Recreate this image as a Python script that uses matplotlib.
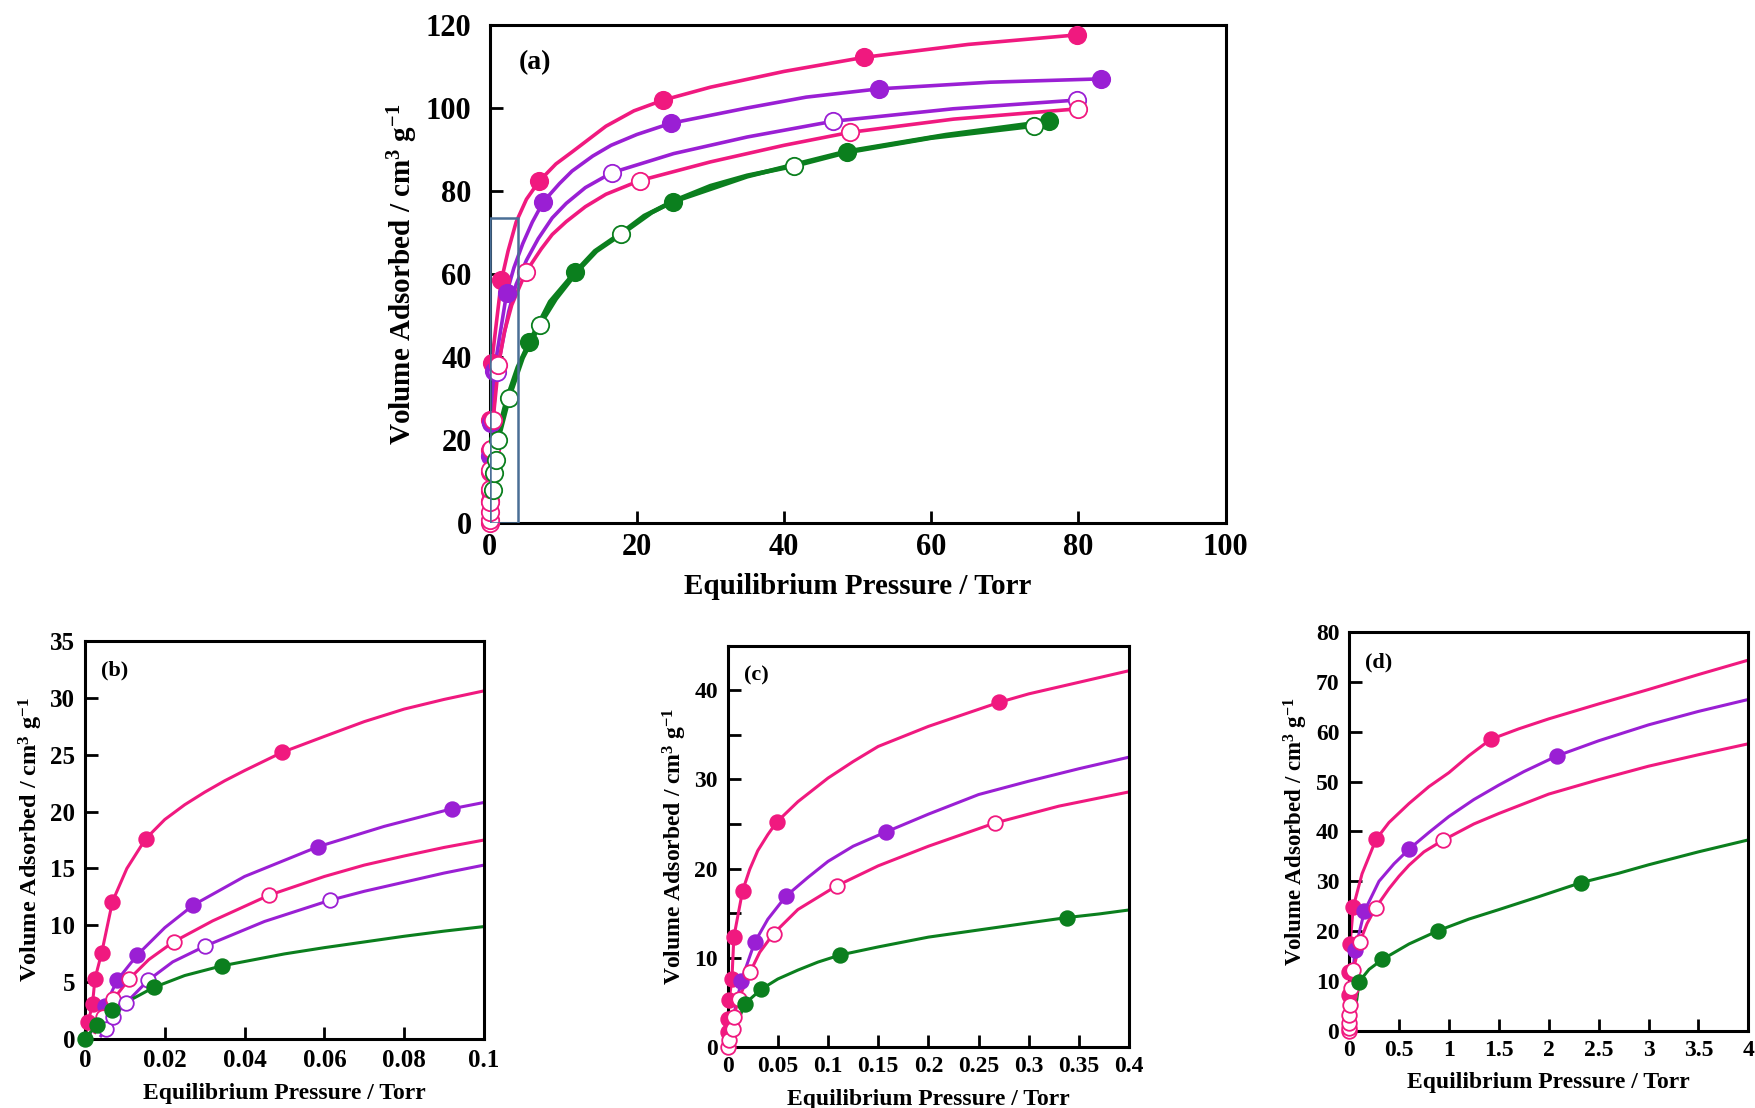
import matplotlib
matplotlib.use("Agg")
import matplotlib.pyplot as plt
from matplotlib.patches import Rectangle
from matplotlib.ticker import MultipleLocator, FuncFormatter

PINK = '#f0197f'
PURPLE = '#9a1fd4'
GREEN = '#0b7f1e'
BOX = '#4a6f96'

# ---- panel (a): 0-100 Torr ----
# markers (x Torr, y cm3/g) and extra points
A_PINK_FILL = [(0, 5.3), (0, 7.6), (0, 12.2), (0.01, 17.5), (0.05, 24.9), (0.27, 38.5),
               (1.6, 58.5), (6.7, 82.3), (23.6, 101.9), (50.9, 112.2), (79.8, 117.6)]
A_PINK_FILL_LINE = [(2.5, 65.5), (3.6, 72.5), (5.0, 78.0), (9.0, 86.5), (11.2, 89.4),
                    (15.8, 95.6), (19.6, 99.3), (30.0, 105.0), (40.0, 108.8), (65.0, 115.3)]
A_PURPLE_FILL = [(0.05, 16.2), (0.15, 24.0), (0.6, 36.5), (2.3, 55.3), (7.3, 77.4),
                 (24.6, 96.3), (52.9, 104.6), (83.0, 107.0)]
A_PURPLE_FILL_LINE = [(3.3, 61.5), (4.5, 67.3), (5.8, 72.5), (9.5, 81.8), (11.2, 84.8),
                      (14.0, 88.4), (16.5, 91.0), (20.0, 93.6), (35.0, 100.0), (43.0, 102.6),
                      (68.0, 106.2)]
A_PURPLE_OPEN = [(0.97, 36.4), (16.6, 84.4), (46.7, 96.8), (79.8, 101.9)]
A_PURPLE_OPEN_LINE = [(0.3, 22.0), (1.8, 44.0), (2.6, 51.0), (3.6, 57.5), (5.0, 63.3),
                      (6.6, 68.5), (8.5, 73.5), (10.4, 77.0), (13.0, 80.8), (25.0, 89.0),
                      (35.0, 93.0), (63.0, 99.8)]
A_PINK_OPEN = [(0, 0.0), (0, 0.7), (0, 2.7), (0, 5.1), (0.05, 8.3), (0.1, 12.7), (0.2, 17.9),
               (0.46, 24.7), (1.2, 38.0), (4.9, 60.4), (20.4, 82.5), (48.9, 94.1), (80.0, 99.8)]
A_PINK_OPEN_LINE = [(2.0, 46.0), (3.0, 52.5), (7.0, 66.0), (8.5, 69.5), (10.4, 72.6),
                    (13.0, 76.2), (15.8, 79.2), (30.0, 87.0), (40.0, 91.0), (63.0, 97.3)]
A_GREEN_FILL = [(5.4, 43.6), (11.6, 60.4), (24.9, 77.4), (48.5, 89.5), (76.0, 96.8)]
A_GREEN_FILL_LINE = [(0, 0.0), (0.1, 9.8), (0.33, 14.3), (0.9, 20.1), (2.3, 29.7), (3.8, 37.5),
                     (8.2, 53.3), (14.3, 65.5), (18.0, 70.0), (21.0, 74.0), (35.0, 83.5),
                     (62.0, 93.5)]
A_GREEN_OPEN = [(0.5, 8.0), (0.6, 12.0), (0.9, 15.1), (1.14, 19.9), (2.6, 30.0), (6.8, 47.7),
                (17.9, 69.6), (41.3, 86.0), (74.0, 95.7)]
A_GREEN_OPEN_LINE = [(0, 0.0), (4.5, 39.8), (9.0, 54.0), (12.0, 60.8), (14.5, 65.5),
                     (22.0, 74.8), (25.0, 77.6), (30.0, 81.2), (35.0, 83.7), (48.5, 89.3),
                     (60.0, 92.8)]
A_ZOOM_BOX = (3.86, 73.4)

# ---- panel (b): 0-0.1 Torr ----
B_PINK_FILL = [(0.0008, 1.5), (0.0019, 3.1), (0.0025, 5.3), (0.0042, 7.6), (0.0069, 12.1),
               (0.0152, 17.6), (0.0494, 25.2)]
B_PINK_FILL_LINE = [(0, 0.0), (0.0105, 15.0), (0.02, 19.3), (0.025, 20.6), (0.03, 21.7),
                    (0.035, 22.7), (0.04, 23.6), (0.06, 26.6), (0.07, 27.9), (0.08, 29.0),
                    (0.09, 29.85), (0.1, 30.6)]
B_PURPLE_FILL = [(0.005, 2.9), (0.0081, 5.2), (0.0131, 7.4), (0.0272, 11.8), (0.0583, 16.9),
                 (0.092, 20.25)]
B_PURPLE_FILL_LINE = [(0.0013, 0.5), (0.02, 9.8), (0.04, 14.3), (0.075, 18.7), (0.1, 20.8)]
B_PINK_OPEN = [(0.0046, 1.96), (0.0071, 3.5), (0.0111, 5.3), (0.0222, 8.56), (0.0461, 12.65)]
B_PINK_OPEN_LINE = [(0.0025, 0.6), (0.016, 7.0), (0.032, 10.4), (0.06, 14.3), (0.07, 15.3),
                    (0.08, 16.1), (0.09, 16.85), (0.1, 17.5)]
B_PURPLE_OPEN = [(0.0054, 0.94), (0.0071, 1.96), (0.0103, 3.2), (0.0159, 5.2), (0.0302, 8.2),
                 (0.0613, 12.2)]
B_PURPLE_OPEN_LINE = [(0.004, 0.3), (0.022, 6.8), (0.045, 10.35), (0.07, 13.0), (0.08, 13.8),
                      (0.09, 14.6), (0.1, 15.3)]
B_GREEN_FILL = [(0, 0.0), (0.0029, 1.3), (0.0069, 2.6), (0.0172, 4.55), (0.0343, 6.45)]
B_GREEN_FILL_LINE = [(0.025, 5.6), (0.05, 7.5), (0.06, 8.05), (0.07, 8.55), (0.08, 9.05),
                     (0.09, 9.5), (0.1, 9.9)]

# ---- panel (c): 0-0.4 Torr ----
C_PINK_FILL = [(0, 1.6), (0.0003, 3.1), (0.0016, 5.3), (0.0043, 7.6), (0.0062, 12.3),
               (0.0149, 17.5), (0.0488, 25.2), (0.2705, 38.65)]
C_PINK_FILL_LINE = [(0.022, 19.9), (0.03, 22.0), (0.04, 23.8), (0.07, 27.5), (0.1, 30.15),
                    (0.125, 32.0), (0.15, 33.7), (0.2, 35.95), (0.3, 39.6), (0.35, 40.9),
                    (0.4, 42.2)]
C_PURPLE_FILL = [(0.0136, 7.4), (0.0269, 11.7), (0.0581, 16.9), (0.1577, 24.1)]
C_PURPLE_FILL_LINE = [(0.006, 3.5), (0.04, 14.3), (0.08, 19.0), (0.1, 20.8), (0.125, 22.5),
                      (0.2, 26.1), (0.25, 28.3), (0.3, 29.8), (0.35, 31.2), (0.4, 32.5)]
C_PINK_OPEN = [(0, 0.0), (0.001, 0.75), (0.005, 1.95), (0.006, 3.3), (0.011, 5.36),
               (0.0225, 8.4), (0.0458, 12.7), (0.1085, 18.05), (0.266, 25.1)]
C_PINK_OPEN_LINE = [(0.032, 10.6), (0.07, 15.4), (0.15, 20.3), (0.2, 22.5), (0.33, 27.0),
                    (0.4, 28.6)]
C_GREEN_FILL = [(0.0169, 4.8), (0.0335, 6.45), (0.1122, 10.3), (0.3383, 14.5)]
C_GREEN_FILL_LINE = [(0.011, 3.0), (0.05, 7.6), (0.07, 8.6), (0.09, 9.5), (0.15, 11.2),
                     (0.2, 12.3), (0.25, 13.1), (0.3, 13.9), (0.37, 14.9), (0.4, 15.35)]

# ---- panel (d): 0-4 Torr ----
D_PINK_FILL = [(0, 7.2), (0, 11.8), (0.01, 17.5), (0.043, 24.9), (0.27, 38.4), (1.419, 58.5)]
D_PINK_FILL_LINE = [(0.13, 31.5), (0.4, 41.8), (0.6, 45.6), (0.8, 49.0), (1.0, 51.8),
                    (1.2, 55.2), (1.7, 60.6), (2.0, 62.6), (2.5, 65.6), (3.0, 68.5),
                    (3.5, 71.5), (4.0, 74.4)]
D_PURPLE_FILL = [(0.06, 16.2), (0.154, 24.0), (0.604, 36.5), (2.087, 55.2)]
D_PURPLE_FILL_LINE = [(0.02, 8.0), (0.3, 30.0), (0.45, 33.5), (0.8, 39.8), (1.0, 43.0),
                      (1.25, 46.4), (1.5, 49.3), (1.75, 52.0), (2.5, 58.2), (3.0, 61.4),
                      (3.5, 64.1), (4.0, 66.5)]
D_PINK_OPEN = [(0, 0.0), (0, 0.5), (0, 1.6), (0, 3.2), (0.01, 5.2), (0.02, 8.5), (0.043, 12.2),
               (0.11, 17.9), (0.267, 24.7), (0.938, 38.2)]
D_PINK_OPEN_LINE = [(0.18, 21.5), (0.4, 28.5), (0.5, 31.0), (0.6, 33.2), (0.75, 35.9),
                    (1.25, 41.5), (1.5, 43.6), (2.0, 47.5), (2.5, 50.4), (3.0, 53.1),
                    (3.5, 55.4), (4.0, 57.6)]
D_GREEN_FILL = [(0.1, 9.8), (0.334, 14.3), (0.895, 20.1), (2.32, 29.7)]
D_GREEN_FILL_LINE = [(0, 0.0), (0.077, 6.2), (0.2, 12.3), (0.6, 17.4), (1.2, 22.4),
                     (1.5, 24.3), (1.9, 26.9), (2.7, 31.6), (3.0, 33.3), (3.5, 35.9),
                     (4.0, 38.3)]

XLABEL = 'Equilibrium Pressure / Torr'
YLABEL = r'Volume Adsorbed / cm$^{3}$ g$^{-1}$'

plt.rcParams['font.family'] = ['Liberation Serif', 'DejaVu Serif']
plt.rcParams['font.weight'] = 'bold'
plt.rcParams['mathtext.fontset'] = 'custom'
plt.rcParams['mathtext.rm'] = 'Liberation Serif:bold'
plt.rcParams['mathtext.it'] = 'Liberation Serif:bold'
plt.rcParams['mathtext.bf'] = 'Liberation Serif:bold'
plt.rcParams['mathtext.default'] = 'rm'


def draw(ax, marks, extra, color, filled, ms, lw):
    pts = sorted(marks + extra)
    ax.plot([p[0] for p in pts], [p[1] for p in pts], color=color, lw=lw, zorder=2,
            solid_joinstyle='round')
    face = color if filled else 'white'
    ax.plot([p[0] for p in marks], [p[1] for p in marks], 'o', ms=ms, mfc=face, mec=color,
            mew=1.3, clip_on=False, zorder=3)


def style(ax, xmax, ymax, xstep, ystep, tick_size, xlab_size, ylab_size, tag, tag_size,
          ypad=7, yminor=None):
    ax.set_xlim(0, xmax)
    ax.set_ylim(0, ymax)
    ax.xaxis.set_major_locator(MultipleLocator(xstep))
    ax.yaxis.set_major_locator(MultipleLocator(ystep))
    if yminor:
        ax.yaxis.set_minor_locator(MultipleLocator(yminor))
    fmt = FuncFormatter(lambda v, p: '{:g}'.format(round(v, 6)))
    ax.xaxis.set_major_formatter(fmt)
    ax.yaxis.set_major_formatter(fmt)
    ax.tick_params(which='both', direction='in', length=9, width=2, top=False, right=False,
                   labelsize=tick_size)
    ax.tick_params(axis='x', pad=7)
    ax.tick_params(axis='y', pad=ypad)
    for s in ax.spines.values():
        s.set_linewidth(2.2)
    ax.set_xlabel(XLABEL, fontsize=xlab_size, fontweight='bold', labelpad=8)
    ax.set_ylabel(YLABEL, fontsize=ylab_size, fontweight='bold', labelpad=4)
    ax.text(0.04, 0.95, tag, transform=ax.transAxes, va='top', ha='left',
            fontsize=tag_size, fontweight='bold')


fig = plt.figure(figsize=(17.55, 11.08), dpi=100)

# (a)
ax = fig.add_axes([0.279, 0.528, 0.4194, 0.4495])
ms, lw = 12.5, 2.6
draw(ax, A_PINK_FILL, A_PINK_FILL_LINE, PINK, True, ms, lw)
draw(ax, A_PURPLE_FILL, A_PURPLE_FILL_LINE, PURPLE, True, ms, lw)
draw(ax, A_PURPLE_OPEN, A_PURPLE_OPEN_LINE, PURPLE, False, ms, lw)
draw(ax, A_PINK_OPEN, A_PINK_OPEN_LINE, PINK, False, ms, lw)
draw(ax, A_GREEN_FILL, A_GREEN_FILL_LINE, GREEN, True, ms, 3.2)
draw(ax, A_GREEN_OPEN, A_GREEN_OPEN_LINE, GREEN, False, ms, 3.2)
ax.add_patch(Rectangle((0, 0), A_ZOOM_BOX[0], A_ZOOM_BOX[1], fill=False, ec=BOX, lw=1.8,
                       zorder=5))
style(ax, 100, 120, 20, 20, 22, 21, 21, '(a)', 20, ypad=13)

# (b)
ax = fig.add_axes([0.0484, 0.062, 0.2274, 0.3597])
ms, lw = 10.5, 2.2
draw(ax, B_PINK_FILL, B_PINK_FILL_LINE, PINK, True, ms, lw)
draw(ax, B_PURPLE_FILL, B_PURPLE_FILL_LINE, PURPLE, True, ms, lw)
draw(ax, B_PINK_OPEN, B_PINK_OPEN_LINE, PINK, False, ms, lw)
draw(ax, B_PURPLE_OPEN, B_PURPLE_OPEN_LINE, PURPLE, False, ms, lw)
draw(ax, B_GREEN_FILL, B_GREEN_FILL_LINE, GREEN, True, ms, lw)
style(ax, 0.1, 35, 0.02, 5, 18, 17, 17.5, '(b)', 16)

# (c)
ax = fig.add_axes([0.4146, 0.0553, 0.2288, 0.3619])
draw(ax, C_PINK_FILL, C_PINK_FILL_LINE, PINK, True, ms, lw)
draw(ax, C_PURPLE_FILL, C_PURPLE_FILL_LINE, PURPLE, True, ms, lw)
draw(ax, C_PINK_OPEN, C_PINK_OPEN_LINE, PINK, False, ms, lw)
draw(ax, C_GREEN_FILL, C_GREEN_FILL_LINE, GREEN, True, ms, lw)
style(ax, 0.4, 45, 0.05, 10, 17, 17, 17, '(c)', 16, yminor=5)

# (d)
ax = fig.add_axes([0.7687, 0.0698, 0.2275, 0.3596])
draw(ax, D_PINK_FILL, D_PINK_FILL_LINE, PINK, True, ms, lw)
draw(ax, D_PURPLE_FILL, D_PURPLE_FILL_LINE, PURPLE, True, ms, lw)
draw(ax, D_PINK_OPEN, D_PINK_OPEN_LINE, PINK, False, ms, lw)
draw(ax, D_GREEN_FILL, D_GREEN_FILL_LINE, GREEN, True, ms, lw)
style(ax, 4, 80, 0.5, 10, 17, 17, 16.5, '(d)', 16)

fig.savefig('out.png', dpi=100)
